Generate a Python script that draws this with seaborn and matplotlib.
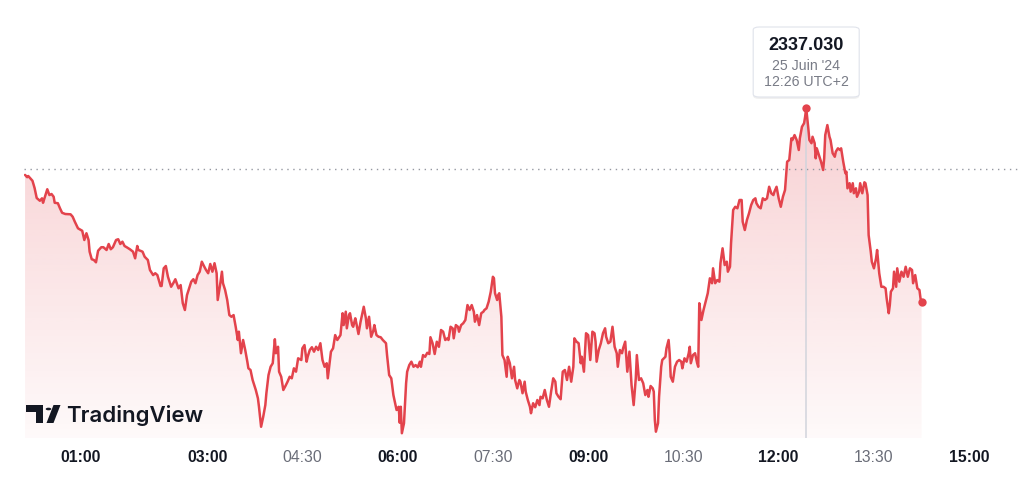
import matplotlib
matplotlib.use('Agg')
import matplotlib.pyplot as plt
import matplotlib.dates as mdates
import numpy as np
import pandas as pd
import seaborn as sns
from matplotlib.colors import to_rgb
from matplotlib.patches import FancyBboxPatch, Polygon, Rectangle, Circle

# minutes after midnight (UTC+2), 25 June 2024
minutes = [
    8, 10, 11, 13, 15, 17, 19, 22, 24, 25, 27, 29, 31, 33, 35, 36, 39, 41, 43, 46,
    51, 53, 55, 58, 62, 64, 66, 68, 69, 71, 73, 75, 77, 80, 82, 85, 87, 89, 91, 94,
    96, 98, 100, 102, 104, 107, 110, 112, 114, 115, 117, 119, 121, 124, 126, 129, 131, 133, 136, 137,
    139, 141, 143, 146, 148, 150, 153, 155, 157, 159, 161, 163, 165, 167,
    169, 171, 173, 175, 177, 179, 181, 183, 185, 187, 189, 190, 192, 194, 195, 197, 199, 201, 203, 205,
    207, 209, 210, 212, 214, 216, 218, 219, 221, 223, 224, 226, 228, 229, 230, 231, 233, 235, 236, 238,
    240, 242, 244, 245, 247, 248, 250, 252, 254, 256, 258, 260, 262, 264, 266, 269, 270, 272, 274, 275,
    277, 279, 281, 283, 285, 287,
    289, 291, 293, 294, 296, 297, 299, 301, 303, 304, 306, 308, 309, 311, 312, 314, 315, 317, 318, 320,
    321, 323, 325, 328, 330, 331, 333, 335, 337, 338, 340, 342, 344, 346, 349, 350, 352, 354, 356, 357,
    359, 361, 362, 363, 364, 366, 367, 368, 369, 371, 373, 375, 377, 379, 381, 382, 384, 386, 388, 390,
    391, 393, 395, 397, 399, 401, 403, 405, 407, 408, 410, 412, 413, 415, 417, 418, 420, 422, 424, 426,
    428, 430, 432, 433, 435, 437, 439, 441, 442, 444, 446, 448, 450, 451, 452, 454, 455, 456, 458, 459,
    461, 463, 464, 466,
    468, 470, 471, 473, 475, 476, 478, 480, 481, 483, 485, 486, 488, 490, 492, 494, 495, 497, 499, 501,
    503, 505, 507, 509, 510, 512, 514, 516, 518, 520, 522, 524, 526, 527, 529, 531, 533, 534, 536, 538,
    540, 542, 544, 546, 547, 548, 550, 552, 554, 556, 557, 559, 561, 563, 565, 567, 568, 570, 572, 573,
    575, 577, 579, 581, 583, 585, 586, 588, 590, 592, 594, 596, 597, 599, 601, 602, 603, 604, 606, 607,
    609,
    610, 613, 614, 616, 617, 618, 620, 622, 624, 626, 628, 629, 631, 633, 635, 636, 637, 639, 641, 643,
    644, 645, 647, 649, 651, 653, 655, 657, 658, 660, 662, 664, 665, 667, 669, 671, 672, 674, 675, 677,
    679, 681, 683, 685, 686, 688, 690, 692, 694, 696, 698, 699, 701, 703, 705, 707, 709, 711, 713, 715,
    716, 718, 720, 722, 724, 726, 728, 730, 732,
    733, 735, 737, 739, 740, 742, 744, 745, 746, 748, 749, 751, 752, 754, 755, 756, 758, 760, 762, 763,
    764, 766, 768, 769, 771, 773, 774, 776, 778, 779, 781, 783, 784, 785, 787, 788, 790, 791, 793, 794,
    796, 797, 799, 801, 802, 804, 805, 807, 808, 810, 812, 813, 814, 815, 817, 819, 821, 822, 824, 825,
    826, 828, 829, 831, 832, 834, 836, 838, 840, 842, 844, 846, 847, 849, 851, 853, 854, 855,
]

prices = [
    2332.68, 2332.53, 2332.61, 2332.46, 2332.30, 2331.83, 2331.18, 2331.00, 2331.16, 2330.87,
    2331.31, 2331.75, 2331.37, 2331.44, 2331.26, 2330.87, 2330.84, 2330.51, 2330.22, 2330.14,
    2330.12, 2329.96, 2329.64, 2329.21, 2329.05, 2328.45, 2328.89, 2328.45, 2327.69, 2327.20,
    2327.15, 2327.00, 2327.75, 2327.98, 2327.98, 2327.80, 2328.19, 2327.85, 2327.98, 2328.45,
    2328.50, 2328.19, 2328.34, 2328.06, 2327.98, 2327.85, 2327.69, 2327.26, 2328.06, 2327.80,
    2327.75, 2327.69, 2327.36, 2327.15, 2326.50, 2326.17, 2326.29, 2326.17, 2325.46, 2325.46,
    2326.61, 2326.76, 2326.06, 2325.41,
    2325.64, 2325.90, 2325.31, 2325.52, 2324.34, 2323.90, 2324.87, 2325.31, 2325.74, 2325.90,
    2325.64, 2326.17, 2326.39, 2327.04, 2326.76, 2326.50, 2326.29, 2326.89, 2326.39, 2326.94,
    2326.29, 2324.55, 2325.41, 2326.39, 2325.64, 2325.20, 2324.55, 2323.57, 2323.46, 2323.57,
    2322.81, 2321.95, 2322.49, 2321.09, 2321.95, 2321.30, 2320.54, 2320.11, 2320.00, 2319.35,
    2319.14, 2318.70, 2318.16, 2317.61, 2316.96, 2316.31, 2316.96, 2317.72, 2318.49, 2319.67,
    2320.21, 2320.44, 2322.00, 2321.09, 2321.51, 2319.89, 2319.56, 2318.70, 2318.96, 2319.24,
    2319.56, 2319.46, 2320.11, 2319.89, 2320.76, 2320.65, 2321.41, 2321.62, 2320.54, 2320.86,
    2321.30, 2321.48, 2321.19, 2321.51, 2321.30, 2321.74,
    2320.65, 2320.21, 2320.44, 2319.46, 2320.65, 2321.19, 2321.41, 2322.27, 2321.95, 2322.06,
    2322.27, 2323.69, 2322.92, 2323.79, 2322.71, 2323.57, 2323.69, 2322.92, 2322.81, 2323.36,
    2323.04, 2322.34, 2323.14, 2324.11, 2323.36, 2322.71, 2323.46, 2322.16, 2322.55, 2322.92,
    2322.27, 2322.16, 2322.13, 2321.95, 2321.74, 2320.97, 2319.67, 2319.46, 2318.37, 2318.05,
    2317.40, 2317.61, 2316.57, 2317.61, 2315.89, 2316.54, 2317.84, 2319.14, 2319.89, 2320.32,
    2320.54, 2320.21, 2320.32, 2320.18, 2320.54, 2320.21, 2320.97, 2320.86, 2321.12, 2321.04,
    2322.13, 2321.74, 2321.04, 2321.84, 2321.51, 2322.60, 2322.49, 2321.95, 2322.06, 2321.95,
    2322.81, 2322.71, 2322.06, 2322.92, 2322.81, 2322.49, 2322.92, 2323.04, 2323.25, 2324.22,
    2323.90, 2324.22, 2323.79, 2323.14, 2323.57, 2322.92, 2323.69, 2323.79, 2323.90, 2324.01,
    2324.44, 2325.09, 2326.06, 2325.96, 2324.99, 2324.55, 2324.87, 2324.99, 2323.46, 2320.97,
    2320.65, 2319.56, 2320.86, 2320.44,
    2319.46, 2320.21, 2319.35, 2318.81, 2319.35, 2319.24, 2318.49, 2319.24, 2318.59, 2318.05,
    2317.61, 2317.19, 2317.84, 2317.58, 2318.05, 2317.72, 2318.26, 2318.16, 2318.70, 2318.05,
    2317.61, 2318.59, 2319.46, 2319.24, 2318.49, 2318.26, 2318.10, 2319.89, 2320.00, 2319.35,
    2320.21, 2319.24, 2320.21, 2322.06, 2321.84, 2321.74, 2320.44, 2320.86, 2319.89, 2322.39,
    2322.27, 2320.65, 2322.49, 2322.39, 2321.84, 2320.54, 2321.30, 2321.74, 2322.39, 2322.71,
    2322.16, 2321.74, 2321.84, 2322.81, 2321.51, 2321.09, 2320.21, 2321.30, 2321.09, 2321.41,
    2321.84, 2319.89, 2321.19, 2319.02, 2317.72, 2319.46, 2320.97, 2319.35, 2319.46, 2319.14,
    2318.37, 2318.70, 2318.26, 2318.96, 2318.81, 2318.59, 2316.75, 2315.99, 2316.54, 2318.26,
    2320.21,
    2320.65, 2320.86, 2321.41, 2321.95, 2321.09, 2319.56, 2319.24, 2320.21, 2320.54, 2320.65,
    2320.54, 2320.11, 2320.76, 2320.54, 2321.09, 2321.51, 2320.44, 2320.97, 2321.09, 2320.44,
    2320.21, 2324.34, 2323.25, 2323.90, 2324.44, 2324.99, 2325.96, 2325.64, 2326.61, 2325.64,
    2325.85, 2325.74, 2326.94, 2327.91, 2326.82, 2327.04, 2326.39, 2326.71, 2328.24, 2330.40,
    2330.61, 2330.51, 2331.05, 2331.05, 2329.64, 2329.10, 2329.75, 2330.19, 2330.72, 2331.05,
    2331.16, 2330.84, 2330.61, 2330.51, 2331.16, 2331.05, 2331.16, 2331.91, 2331.49, 2331.37,
    2331.59, 2331.91, 2331.16, 2330.61, 2331.26, 2331.70, 2333.54, 2333.65, 2335.06,
    2334.95, 2335.27, 2334.95, 2334.30, 2335.06, 2335.81, 2336.04, 2336.46, 2337.03, 2335.71,
    2334.95, 2334.74, 2335.16, 2334.74, 2333.76, 2334.41, 2333.97, 2333.54, 2333.00, 2333.76,
    2335.27, 2335.92, 2335.16, 2334.95, 2334.09, 2333.86, 2334.19, 2334.41, 2334.30, 2334.41,
    2333.54, 2332.79, 2332.89, 2331.81, 2332.14, 2331.59, 2332.14, 2331.49, 2331.81, 2331.26,
    2331.59, 2332.14, 2331.49, 2332.20, 2332.14, 2331.37, 2328.77, 2327.69, 2327.04, 2326.61,
    2327.26, 2327.80, 2327.04, 2326.29, 2325.41, 2325.41, 2325.31, 2324.66, 2323.69, 2324.22,
    2325.09, 2325.31, 2326.39, 2325.41, 2326.61, 2325.74, 2326.39, 2326.06, 2326.71, 2326.06,
    2326.61, 2326.50, 2325.64, 2326.17, 2325.31, 2325.20, 2324.66, 2324.40,
]

prev_close = 2333.07
peak_label = '2337.030'
peak_date = "25 Juin '24"
peak_time = '12:26 UTC+2'

tick_times = ['01:00', '03:00', '04:30', '06:00', '07:30', '09:00', '10:30', '12:00', '13:30', '15:00']
bold_ticks = ['01:00', '03:00', '06:00', '09:00', '12:00', '15:00']

RED = '#e3434c'
DARK = '#131722'
GREY = '#787b86'
W, H = 1024, 480

sns.set_theme(style='white')
plt.rcParams['font.family'] = ['Liberation Sans', 'DejaVu Sans']

day = pd.Timestamp('2024-06-25')
df = pd.DataFrame({'time': day + pd.to_timedelta(minutes, unit='min'), 'price': prices})

fig = plt.figure(figsize=(W / 100, H / 100), dpi=100)
fig.patch.set_facecolor('white')
ax = fig.add_axes([24 / W, 1 - 438 / H, (1020 - 24) / W, (438 - 20) / H])
ax.set_facecolor('white')

ymin, ymax = 2315.58, 2342.75
sns.lineplot(data=df, x='time', y='price', ax=ax, color=RED, linewidth=1.8, zorder=3)

# gradient area under the line
xs = mdates.date2num(df['time'])
ys = df['price'].to_numpy()
verts = [(xs[0], ymin)] + list(zip(xs, ys)) + [(xs[-1], ymin)]
poly = Polygon(verts, closed=True, facecolor='none', edgecolor='none')
ax.add_patch(poly)
rgb = to_rgb(RED)
alpha = np.linspace(0.25, 0.03, 256)
grad = np.zeros((256, 1, 4))
grad[:, 0, :3] = rgb
grad[:, 0, 3] = alpha
im = ax.imshow(grad, extent=[xs[0], xs[-1], ymin, ys.max()], aspect='auto',
               origin='upper', zorder=1, interpolation='bilinear')
im.set_clip_path(poly)

# previous close dotted line
ax.axhline(prev_close, color='#9598a1', lw=1.0, linestyle=(0, (1, 3.3)), zorder=2)

# crosshair + markers
i_peak = int(np.argmax(ys))
peak_x, peak_y = xs[i_peak], ys[i_peak]
ax.vlines(peak_x, ymin, peak_y, color='#d1d4dc', lw=1.1, zorder=2)
ax.scatter([peak_x, xs[-1]], [peak_y, ys[-1]], s=36, color=RED, zorder=4, linewidths=0)

ax.set_xlim(mdates.date2num(day + pd.Timedelta(minutes=7)),
            mdates.date2num(day + pd.Timedelta(minutes=948)))
ax.set_ylim(ymin, ymax)

tick_pos = [mdates.date2num(day + pd.Timedelta(t + ':00')) for t in tick_times]
ax.set_xticks(tick_pos)
ax.set_xticklabels(tick_times)
for lab in ax.get_xticklabels():
    if lab.get_text() in bold_ticks:
        lab.set_fontweight('bold')
        lab.set_color(DARK)
    else:
        lab.set_color('#6a6d78')
    lab.set_fontsize(11.3)
ax.tick_params(axis='x', length=0, pad=9)
ax.set_yticks([])
ax.set_xlabel('')
ax.set_ylabel('')
for s in ax.spines.values():
    s.set_visible(False)

# tooltip above the peak
fig.canvas.draw()
px, py = ax.transData.transform((peak_x, peak_y))
bw, bh = 106, 70
bx, by = px - bw / 2, py + 11
shadow = FancyBboxPatch(((bx) / W, (by - 2) / H), bw / W, bh / H,
                        boxstyle='round,pad=0,rounding_size=0.006',
                        transform=fig.transFigure, facecolor='black', alpha=0.06,
                        edgecolor='none', zorder=5)
box = FancyBboxPatch((bx / W, by / H), bw / W, bh / H,
                     boxstyle='round,pad=0,rounding_size=0.006',
                     transform=fig.transFigure, facecolor='white',
                     edgecolor='#e0e3eb', lw=0.8, zorder=6)
fig.patches.extend([shadow, box])
fig.text(px / W, (py + 63) / H, peak_label, ha='center', va='center',
         fontsize=13, fontweight='bold', color=DARK, zorder=7)
fig.text(px / W, (py + 42) / H, peak_date, ha='center', va='center',
         fontsize=10.2, color=GREY, zorder=7)
fig.text(px / W, (py + 26) / H, peak_time, ha='center', va='center',
         fontsize=10.2, color=GREY, zorder=7)

# TradingView watermark
def fx(x):
    return x / W

def fy(y):
    return 1 - y / H

logo = [
    Rectangle((fx(26), fy(412)), 17 / W, 7 / H),
    Rectangle((fx(36), fy(423)), 7 / W, 18 / H),
    Polygon([(fx(46.5), fy(423)), (fx(53.5), fy(423)), (fx(60.5), fy(405)), (fx(53.5), fy(405))]),
]
for p in logo:
    p.set_transform(fig.transFigure)
    p.set_facecolor(DARK)
    p.set_edgecolor('none')
    fig.patches.append(p)
dot = Circle((fx(48.5), fy(409)), 2.8 / W, transform=fig.transFigure,
             facecolor=DARK, edgecolor='none')
fig.patches.append(dot)
fig.text(fx(66), fy(422), 'TradingView', ha='left', va='baseline', fontsize=16,
         fontweight='semibold', color=DARK, family=['Inter', 'DejaVu Sans'])

fig.savefig('out.png', dpi=100, facecolor='white')
